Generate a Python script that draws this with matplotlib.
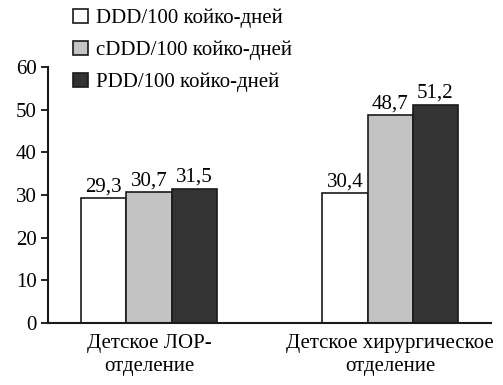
import numpy as np
import matplotlib.pyplot as plt

plt.rcParams['font.family'] = ['Liberation Serif', 'DejaVu Serif']

# Data
categories = ['Детское ЛОР-\nотделение', 'Детское хирургическое\nотделение']
series_names = ['DDD/100 койко-дней', 'cDDD/100 койко-дней', 'PDD/100 койко-дней']
ddd = [29.3, 30.4]
cddd = [30.7, 48.7]
pdd = [31.5, 51.2]
colors = ['#ffffff', '#c3c3c3', '#333333']

fs = 15

fig = plt.figure(figsize=(5.03, 3.85), dpi=100)
ax = fig.add_axes([0.0954, 0.161, 0.881, 0.665])

x = np.arange(len(categories))
w = 0.187
handles = []
for i, (vals, c, name) in enumerate(zip([ddd, cddd, pdd], colors, series_names)):
    bars = ax.bar(x + (i - 1) * w, vals, w, color=c, edgecolor='#1a1a1a',
                  linewidth=1.2, label=name)
    handles.append(bars)
    for b, v in zip(bars, vals):
        ax.text(b.get_x() + b.get_width() / 2, v + 0.4,
                ('%.1f' % v).replace('.', ','), ha='center', va='bottom',
                fontsize=fs)

ax.set_xlim(-0.419, 1.419)
ax.set_ylim(0, 60)
ax.set_yticks(range(0, 61, 10))
ax.set_xticks(x)
ax.set_xticklabels(categories, fontsize=fs, linespacing=1.3)
ax.tick_params(axis='x', length=0, pad=8)
ax.tick_params(axis='y', labelsize=fs, length=5, width=1.2, direction='out', pad=3)
for s in ['top', 'right']:
    ax.spines[s].set_visible(False)
for s in ['left', 'bottom']:
    ax.spines[s].set_linewidth(1.5)
    ax.spines[s].set_color('#1a1a1a')

fig.legend(handles=handles, loc='upper left', bbox_to_anchor=(0.12, 1.01),
           frameon=False, fontsize=fs, handlelength=0.75, handleheight=0.7,
           handletextpad=0.35, labelspacing=0.6, borderaxespad=0.2)

fig.savefig('out.png', dpi=100)
